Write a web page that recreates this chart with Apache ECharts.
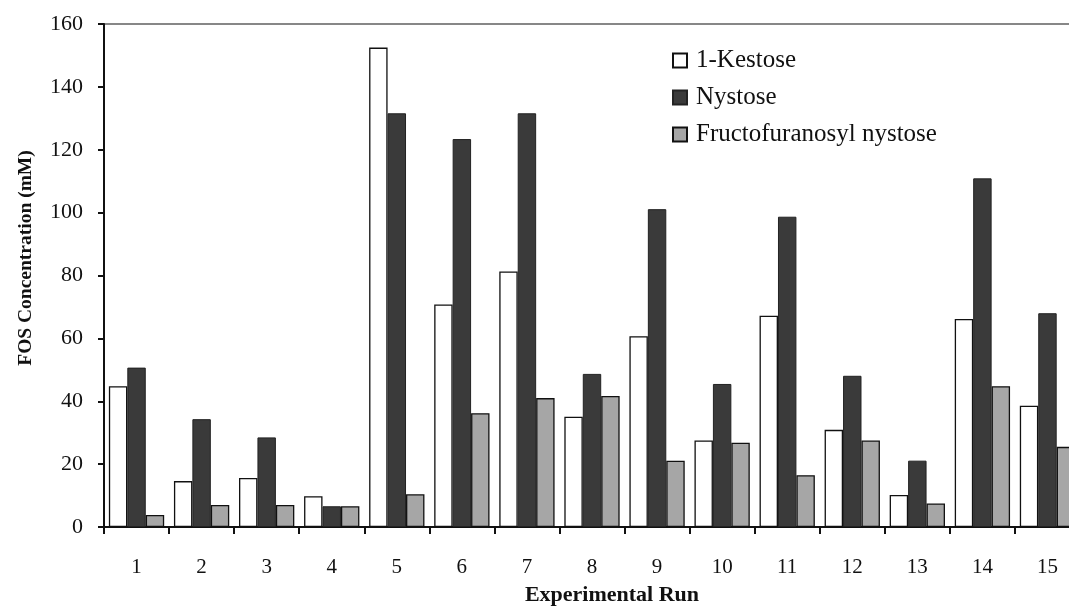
<!DOCTYPE html>
<html>
<head>
<meta charset="utf-8">
<script src="https://cdn.jsdelivr.net/npm/echarts@6/dist/echarts.min.js"></script>
<style>
html,body{margin:0;padding:0;background:#fff;}
#c{width:1069px;height:616px;}
</style>
</head>
<body>
<div id="c"></div>
<script>
const runs = ['1','2','3','4','5','6','7','8','9','10','11','12','13','14','15'];
const kestose = [44.8, 14.6, 15.6, 9.8, 152.5, 70.8, 81.3, 35.1, 60.7, 27.5, 67.2, 30.9, 10.2, 66.2, 38.6];
const nystose = [50.7, 34.3, 28.5, 6.6, 131.6, 123.4, 131.6, 48.7, 101.1, 45.5, 98.7, 48.1, 21.1, 110.9, 68.0];
const fructo = [3.8, 7.0, 7.0, 6.6, 10.4, 36.2, 41.0, 41.7, 21.1, 26.8, 16.5, 27.5, 7.5, 44.8, 25.5];
const seriesNames = ['1-Kestose', 'Nystose', 'Fructofuranosyl nystose'];

const font = 'Liberation Serif, Times New Roman, serif';
const chart = echarts.init(document.getElementById('c'), null, {renderer: 'canvas'});
chart.setOption({
  animation: false,
  backgroundColor: '#fff',
  textStyle: {fontFamily: font, color: '#111'},
  grid: {left: 104, top: 24, bottom: 89, width: 976, outerBoundsMode: 'none', containLabel: false,
         show: true, borderColor: '#111', borderWidth: 1.2, backgroundColor: 'transparent'},
  legend: {
    orient: 'vertical', left: 672, top: 48, padding: 0,
    icon: 'rect', itemWidth: 14, itemHeight: 14, itemGap: 12,
    textStyle: {fontFamily: font, fontSize: 25, color: '#111', padding: [0, 0, 0, 4]},
    data: seriesNames
  },
  xAxis: {
    type: 'category', data: runs,
    name: 'Experimental Run', nameLocation: 'middle', nameGap: 57,
    nameTextStyle: {fontFamily: font, fontSize: 22, fontWeight: 'bold', color: '#111', padding: [0, 0, 0, 40]},
    axisLine: {lineStyle: {color: '#111', width: 2}},
    axisTick: {show: true, alignWithLabel: false, length: 7, lineStyle: {color: '#111', width: 2}},
    axisLabel: {fontFamily: font, fontSize: 21, color: '#111', margin: 30},
    splitLine: {show: false}
  },
  yAxis: {
    type: 'value', min: 0, max: 160, interval: 20,
    name: 'FOS Concentration (mM)', nameLocation: 'middle', nameGap: 68, nameRotate: 90,
    nameTextStyle: {fontFamily: font, fontSize: 19.5, fontWeight: 'bold', color: '#111', padding: [0, 0, 0, 35]},
    axisLine: {show: true, lineStyle: {color: '#111', width: 2}},
    axisTick: {show: true, length: 6, lineStyle: {color: '#111', width: 2}},
    axisLabel: {fontFamily: font, fontSize: 22, color: '#111', margin: 21},
    splitLine: {show: false}
  },
  series: [
    {name: seriesNames[0], type: 'bar', data: kestose, barGap: 0, barCategoryGap: '15%',
     itemStyle: {color: '#ffffff', borderColor: '#111', borderWidth: 1.3}},
    {name: seriesNames[1], type: 'bar', data: nystose, barGap: 0, barCategoryGap: '15%',
     itemStyle: {color: '#3a3a3a', borderColor: '#222', borderWidth: 1}},
    {name: seriesNames[2], type: 'bar', data: fructo, barGap: 0, barCategoryGap: '15%',
     itemStyle: {color: '#a6a6a6', borderColor: '#111', borderWidth: 1.3}}
  ]
});
</script>
</body>
</html>
